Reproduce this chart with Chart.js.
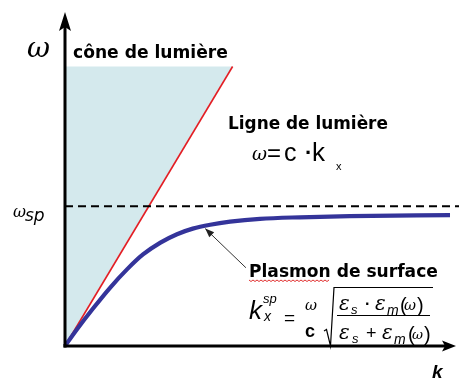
<!DOCTYPE html>
<html>
<head>
<meta charset="utf-8">
<script src="https://cdn.jsdelivr.net/npm/chart.js@4/dist/chart.umd.min.js"></script>
<style>
html,body{margin:0;padding:0;background:#fff;}
#wrap{width:459px;height:383px;position:relative;}
</style>
</head>
<body>
<div id="wrap"><canvas id="c" width="459" height="383"></canvas></div>
<script>
// ---- data (k in units where light line is omega ~ k, omega in units of omega_sp) ----
const kSurface     = [0, 0.145, 0.34, 0.54, 0.75, 0.94, 1.15, 1.35, 1.54, 1.75, 1.99, 2.35, 2.83, 3.43, 4.64];
const omegaSurface = [0, 0.12, 0.27, 0.415, 0.55, 0.655, 0.74, 0.80, 0.84, 0.868, 0.89, 0.91, 0.921, 0.929, 0.936];
const lightK       = [0, 2.02];
const lightOmega   = [0, 2.0];
const omegaSp      = 1.0;
const coneTop      = 2.0;
const dashK        = [0, 4.75];
const arrowK       = [2.18, 1.69];
const arrowOmega   = [0.56, 0.84];
const kMax = 4.7, omegaMax = 2.39;

const pts = (xs, ys) => xs.map((x, i) => ({x: x, y: ys[i]}));

const overlay = {
  id: 'overlay',
  afterDatasetsDraw(chart) {
    const ctx = chart.ctx, xs = chart.scales.x, ys = chart.scales.y;
    const x0 = xs.getPixelForValue(0), y0 = ys.getPixelForValue(0);
    const tipY = ys.getPixelForValue(omegaMax), tipX = xs.getPixelForValue(kMax);
    ctx.save();
    // axes
    ctx.strokeStyle = '#000'; ctx.fillStyle = '#000'; ctx.lineWidth = 3; ctx.lineCap = 'butt';
    ctx.beginPath(); ctx.moveTo(x0, y0 + 1.5); ctx.lineTo(x0, tipY + 12); ctx.stroke();
    ctx.beginPath(); ctx.moveTo(x0 - 1.5, y0); ctx.lineTo(tipX - 10, y0); ctx.stroke();
    ctx.beginPath(); ctx.moveTo(x0, tipY); ctx.lineTo(x0 - 6, tipY + 19); ctx.lineTo(x0, tipY + 15); ctx.lineTo(x0 + 6, tipY + 19); ctx.closePath(); ctx.fill();
    ctx.beginPath(); ctx.moveTo(tipX + 1, y0); ctx.lineTo(tipX - 13, y0 - 5.5); ctx.lineTo(tipX - 10, y0); ctx.lineTo(tipX - 13, y0 + 5.5); ctx.closePath(); ctx.fill();
    // annotation arrowhead
    const ax = xs.getPixelForValue(arrowK[1]), ay = ys.getPixelForValue(arrowOmega[1]);
    const bx = xs.getPixelForValue(arrowK[0]), by = ys.getPixelForValue(arrowOmega[0]);
    const ang = Math.atan2(ay - by, ax - bx);
    ctx.fillStyle = '#222';
    ctx.beginPath(); ctx.moveTo(ax, ay);
    ctx.lineTo(ax - 9 * Math.cos(ang) + 3.5 * Math.sin(ang), ay - 9 * Math.sin(ang) - 3.5 * Math.cos(ang));
    ctx.lineTo(ax - 9 * Math.cos(ang) - 3.5 * Math.sin(ang), ay - 9 * Math.sin(ang) + 3.5 * Math.cos(ang));
    ctx.closePath(); ctx.fill();

    // texts
    ctx.fillStyle = '#000'; ctx.textBaseline = 'alphabetic'; ctx.textAlign = 'left';
    const fit = (t, x, y, style, fam, w) => {
      ctx.font = style + ' 100px ' + fam;
      const s = 100 * w / ctx.measureText(t).width;
      ctx.font = style + ' ' + s.toFixed(2) + 'px ' + fam;
      ctx.fillText(t, x, y);
    };
    const put = (t, x, y, font) => { ctx.font = font; ctx.fillText(t, x, y); };
    const gr = '"DejaVu Serif"', sans = '"Liberation Sans"', dv = '"DejaVu Sans"';

    fit('cône de lumière', 73, 58, 'bold', dv, 155);
    fit('Ligne de lumière', 228, 129, 'bold', dv, 160);
    fit('Plasmon de surface', 249, 277, 'bold', dv, 189);
    // spell-check squiggle
    ctx.strokeStyle = '#e03030'; ctx.lineWidth = 1;
    ctx.beginPath();
    for (let x = 249, i = 0; x <= 330; x += 2, i++) { const y = 280.5 + (i % 2 ? 1 : -0.5); if (i === 0) ctx.moveTo(x, y); else ctx.lineTo(x, y); }
    ctx.stroke();

    // axis symbols
    fit('\u03C9', 27, 57, 'italic', gr, 23);
    fit('\u03C9', 13, 217, 'italic', gr, 13);
    put('sp', 25, 221, 'italic 17px ' + dv);
    put('k', 432, 378, 'bold italic 19px ' + sans);

    // omega = c . k_x
    fit('\u03C9', 252, 160, 'italic', gr, 15);
    put('=', 267, 161, '24px ' + sans);
    put('c', 284, 161, '25px ' + sans);
    put('\u00B7', 305, 160, 'bold 22px ' + sans);
    put('k', 312, 161, '26px ' + sans);
    put('x', 336, 170, '11px ' + sans);

    // k_x^sp = omega/c sqrt(...)
    put('k', 249, 319, 'italic 26px ' + sans);
    put('sp', 263, 303, 'italic 13px ' + sans);
    put('x', 264, 321, 'italic 14px ' + sans);
    put('=', 284, 324, '19px ' + sans);
    fit('\u03C9', 305, 310, 'italic', gr, 12);
    put('c', 305, 337, 'bold 18px ' + sans);
    ctx.strokeStyle = '#000'; ctx.lineWidth = 1.2;
    ctx.beginPath(); ctx.moveTo(324, 331); ctx.lineTo(326.5, 329.5); ctx.lineTo(330.5, 346); ctx.lineTo(334, 287.5); ctx.lineTo(433, 287.5); ctx.stroke();
    ctx.lineWidth = 1;
    ctx.beginPath(); ctx.moveTo(337, 315.5); ctx.lineTo(430, 315.5); ctx.stroke();
    const eps = 'italic 20px ' + gr, sub = 'italic 13px ' + sans, subm = 'italic 14px ' + sans, par = '20px ' + sans;
    put('\u03B5', 339, 310, eps); put('s', 351, 314, sub);
    put('\u00B7', 365, 309, 'bold 16px ' + sans);
    put('\u03B5', 375, 310, eps); put('m', 387, 315, subm);
    put('(', 400, 312, par); fit('\u03C9', 404, 310, 'italic', gr, 12); put(')', 417, 312, par);
    put('\u03B5', 339, 339, eps); put('s', 352, 343, sub);
    put('+', 366, 339, '18px ' + sans);
    put('\u03B5', 382, 339, eps); put('m', 394, 344, subm);
    put('(', 408, 341, par); fit('\u03C9', 412, 339, 'italic', gr, 11); put(')', 424, 341, par);
    ctx.restore();
  }
};

new Chart(document.getElementById('c'), {
  type: 'scatter',
  data: {
    datasets: [
      { label: 'Plasmon de surface', data: pts(kSurface, omegaSurface), showLine: true,
        borderColor: '#34349a', borderWidth: 4.2, pointRadius: 0, cubicInterpolationMode: 'monotone', clip: 10, fill: false },
      { label: 'annotation', data: pts(arrowK, arrowOmega), showLine: true,
        borderColor: '#333', borderWidth: 1, pointRadius: 0, clip: 10, fill: false },
      { label: 'omega_sp', data: pts(dashK, [omegaSp, omegaSp]), showLine: true,
        borderColor: '#000', borderWidth: 2, borderDash: [8, 5], pointRadius: 0, clip: 10, fill: false },
      { label: 'Ligne de lumière', data: pts(lightK, lightOmega), showLine: true,
        borderColor: '#e31e24', borderWidth: 1.6, pointRadius: 0, clip: 10,
        fill: { value: coneTop }, backgroundColor: '#d4e9ed' }
    ]
  },
  options: {
    responsive: false, animation: false, devicePixelRatio: 1,
    layout: { padding: { left: 65, right: 4, top: 12, bottom: 37 } },
    scales: {
      x: { type: 'linear', min: 0, max: kMax, display: false },
      y: { type: 'linear', min: 0, max: omegaMax, display: false }
    },
    plugins: { legend: { display: false }, tooltip: { enabled: false } },
    elements: { line: { tension: 0 } }
  },
  plugins: [overlay]
});
</script>
</body>
</html>
